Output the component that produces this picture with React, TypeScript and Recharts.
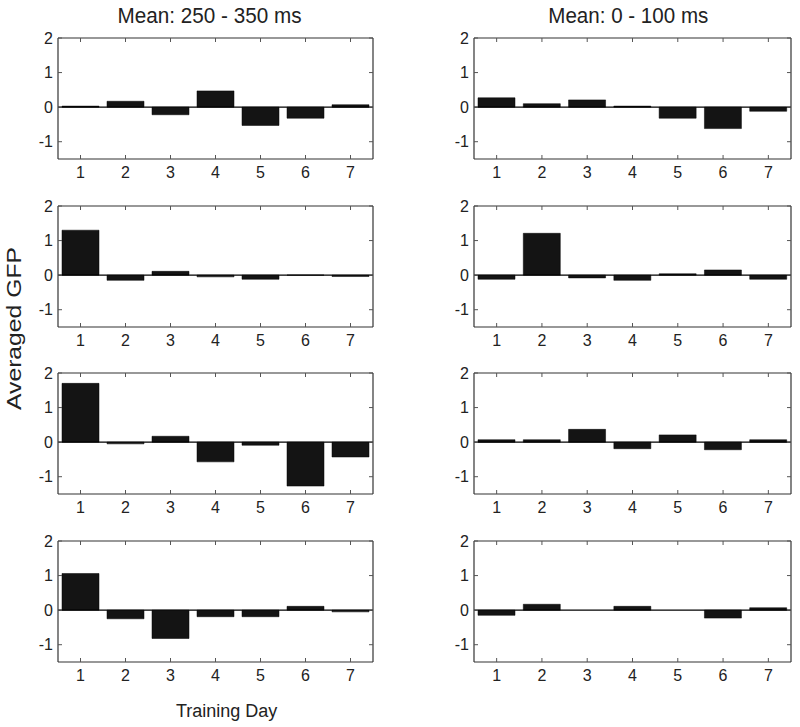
import React from 'react';
import { BarChart, Bar, XAxis, YAxis, ReferenceLine } from 'recharts';

// ---- data ----
const days = [1, 2, 3, 4, 5, 6, 7];
const yTicks = [-1, 0, 1, 2];
const colTitles = ['Mean: 250 - 350 ms', 'Mean: 0 - 100 ms'];
const yLabel = 'Averaged GFP';
const xLabel = 'Training Day';

const late1 = [0.03, 0.17, -0.22, 0.47, -0.53, -0.32, 0.07];
const late2 = [1.3, -0.15, 0.11, -0.05, -0.12, 0.005, -0.04];
const late3 = [1.7, -0.05, 0.17, -0.57, -0.09, -1.27, -0.43];
const late4 = [1.06, -0.25, -0.82, -0.19, -0.19, 0.11, -0.05];

const early1 = [0.27, 0.1, 0.21, 0.03, -0.32, -0.62, -0.12];
const early2 = [-0.12, 1.21, -0.08, -0.15, 0.04, 0.15, -0.12];
const early3 = [0.07, 0.07, 0.37, -0.19, 0.21, -0.22, 0.07];
const early4 = [-0.15, 0.17, 0, 0.11, 0, -0.23, 0.07];

const leftCol = [late1, late2, late3, late4];
const rightCol = [early1, early2, early3, early4];

// ---- layout ----
const X_DOMAIN: [number, number] = [0.5, 7.5];
const Y_DOMAIN: [number, number] = [-1.5, 2];
const COL_LEFT = [58, 474];
const COL_W = [315, 317];
const ROW_TOP = [38, 206, 373, 541];
const PLOT_H = 121;
const Y_AXIS_W = 40;
const X_AXIS_H = 26;
const M = 10;
const TEXT = '#222';
const BOX = '#333';
const TICK = '#555';
const FONT = '"Liberation Sans", Arial, Helvetica, sans-serif';

type PanelProps = { values: number[]; plotLeft: number; plotTop: number; plotW: number };

function Panel({ values, plotLeft, plotTop, plotW }: PanelProps) {
  const data = days.map((d, i) => ({ day: d, v: values[i] }));

  const XTick = (p: any) => {
    const { x, y, payload } = p;
    return (
      <g>
        <line x1={x} x2={x} y1={y} y2={y - 4} stroke={TICK} />
        <line x1={x} x2={x} y1={y - PLOT_H} y2={y - PLOT_H + 4} stroke={TICK} />
        <text x={x} y={y + 19} textAnchor="middle" fontSize={16} fill={TEXT} fontFamily={FONT}>
          {payload.value}
        </text>
      </g>
    );
  };

  const YTick = (p: any) => {
    const { x, y, payload } = p;
    return (
      <g>
        <line x1={x} x2={x + 4} y1={y} y2={y} stroke={TICK} />
        <line x1={x + plotW} x2={x + plotW - 4} y1={y} y2={y} stroke={TICK} />
        <text x={x - 5} y={y} dy="0.36em" textAnchor="end" fontSize={16} fill={TEXT} fontFamily={FONT}>
          {payload.value}
        </text>
      </g>
    );
  };

  return (
    <div style={{ position: 'absolute', left: plotLeft - Y_AXIS_W, top: plotTop - M }}>
      <BarChart
        width={Y_AXIS_W + plotW + M}
        height={M + PLOT_H + X_AXIS_H}
        data={data}
        margin={{ top: M, right: M, left: 0, bottom: 0 }}
      >
        <XAxis
          dataKey="day"
          type="number"
          domain={X_DOMAIN}
          ticks={days}
          allowDataOverflow
          height={X_AXIS_H}
          tickSize={0}
          tickMargin={0}
          tickLine={false}
          axisLine={false}
          tick={XTick}
          interval={0}
        />
        <YAxis
          type="number"
          domain={Y_DOMAIN}
          ticks={yTicks}
          allowDataOverflow
          width={Y_AXIS_W}
          tickSize={0}
          tickMargin={0}
          tickLine={false}
          axisLine={false}
          tick={YTick}
          interval={0}
        />
        <Bar dataKey="v" fill="#141414" stroke="#000" strokeWidth={0.5} barSize={Math.round((plotW / 7) * 0.82)} isAnimationActive={false} />
        <ReferenceLine y={0} stroke="#000" strokeWidth={1.3} />
        <ReferenceLine y={Y_DOMAIN[1]} stroke={BOX} strokeWidth={1.2} />
        <ReferenceLine y={Y_DOMAIN[0]} stroke={BOX} strokeWidth={1.2} />
        <ReferenceLine x={X_DOMAIN[0]} stroke={BOX} strokeWidth={1.2} />
        <ReferenceLine x={X_DOMAIN[1]} stroke={BOX} strokeWidth={1.2} />
      </BarChart>
    </div>
  );
}

export default function App() {
  const cols = [leftCol, rightCol];
  return (
    <div style={{ position: 'absolute', left: 0, top: 0, width: 800, height: 727, background: '#fff', overflow: 'hidden' }}>
      {cols.map((col, c) =>
        col.map((vals, r) => (
          <Panel key={`${c}-${r}`} values={vals} plotLeft={COL_LEFT[c]} plotTop={ROW_TOP[r]} plotW={COL_W[c]} />
        ))
      )}
      <svg width={800} height={727} style={{ position: 'absolute', left: 0, top: 0, pointerEvents: 'none' }}>
        <text x={209.5} y={22.7} textAnchor="middle" fontSize={22} fill={TEXT} fontFamily={FONT} textLength={184} lengthAdjust="spacingAndGlyphs">
          {colTitles[0]}
        </text>
        <text x={628.3} y={22.7} textAnchor="middle" fontSize={22} fill={TEXT} fontFamily={FONT} textLength={160} lengthAdjust="spacingAndGlyphs">
          {colTitles[1]}
        </text>
        <text
          x={0}
          y={0}
          transform="translate(21,328.5) rotate(-90)"
          textAnchor="middle"
          fontSize={20}
          fill={TEXT}
          fontFamily={FONT}
          textLength={163}
          lengthAdjust="spacingAndGlyphs"
        >
          {yLabel}
        </text>
        <text x={226.7} y={717.3} textAnchor="middle" fontSize={18} fill={TEXT} fontFamily={FONT}>
          {xLabel}
        </text>
      </svg>
    </div>
  );
}
